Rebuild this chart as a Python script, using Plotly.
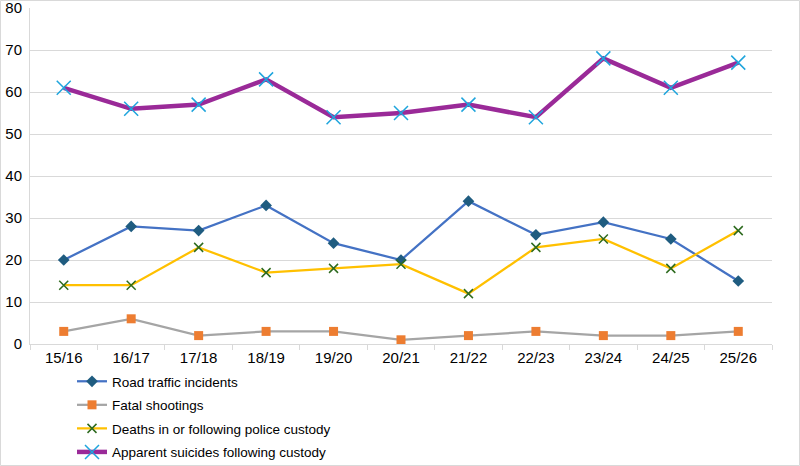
import plotly.graph_objects as go

years = ["15/16", "16/17", "17/18", "18/19", "19/20", "20/21", "21/22", "22/23", "23/24", "24/25", "25/26"]
road = [20, 28, 27, 33, 24, 20, 34, 26, 29, 25, 15]
shootings = [3, 6, 2, 3, 3, 1, 2, 3, 2, 2, 3]
custody = [14, 14, 23, 17, 18, 19, 12, 23, 25, 18, 27]
suicides = [61, 56, 57, 63, 54, 55, 57, 54, 68, 61, 67]
y_ticks = [0, 10, 20, 30, 40, 50, 60, 70, 80]

W, H = 800, 466
ml, mr, mt, mb = 30, 28, 8, 122

fig = go.Figure()
fig.add_trace(go.Scatter(x=years, y=road, name="Road traffic incidents", mode="lines+markers",
                         line=dict(color="#4472C4", width=2.25),
                         marker=dict(symbol="diamond", size=9, color="#1F5C80"), legendgroup="a"))
fig.add_trace(go.Scatter(x=years, y=shootings, name="Fatal shootings", mode="lines+markers",
                         line=dict(color="#A5A5A5", width=2.25),
                         marker=dict(symbol="square", size=9, color="#ED7D31"), legendgroup="b"))
fig.add_trace(go.Scatter(x=years, y=custody, name="Deaths in or following police custody", mode="lines+markers",
                         line=dict(color="#FFC000", width=2.25),
                         marker=dict(symbol="x-thin", size=9, line=dict(color="#2E6B1F", width=1.5)), legendgroup="c"))
fig.add_trace(go.Scatter(x=years, y=suicides, name="Apparent suicides following custody", mode="lines+markers",
                         line=dict(color="#9A2A98", width=4.5),
                         marker=dict(symbol="x-thin", size=14, line=dict(color="#1FA5DD", width=1.5)), legendgroup="d"))

pw = W - ml - mr
ph = H - mt - mb
fig.add_shape(type="rect", xref="paper", yref="paper",
              x0=(0.5 - ml) / pw, x1=(W - 0.5 - ml) / pw,
              y0=-(mb - 0.5) / ph, y1=(ph + mt - 0.5) / ph,
              line=dict(color="#D9D9D9", width=1), layer="below")

fig.update_layout(
    width=W, height=H,
    margin=dict(l=ml, r=mr, t=mt, b=mb),
    paper_bgcolor="white", plot_bgcolor="white",
    font=dict(family="Liberation Sans, Arial, sans-serif", size=15, color="#000000"),
    showlegend=True,
    legend=dict(x=(72 - ml) / pw, y=1 - 366 / H, xref="paper", yref="container",
                xanchor="left", yanchor="top", orientation="v",
                font=dict(size=13.5), tracegroupgap=3, bgcolor="rgba(0,0,0,0)", itemwidth=30),
    xaxis=dict(showgrid=False, showline=True, linecolor="#D9D9D9", linewidth=1,
               ticks="outside", ticklen=5, tickcolor="#D9D9D9", tickson="boundaries",
               tickfont=dict(size=15), tickangle=0, range=[-0.5, 10.5], fixedrange=True,
               automargin=False),
    yaxis=dict(range=[0, 80.001], tickmode="array", tickvals=y_ticks, showgrid=True,
               gridcolor="#D9D9D9", gridwidth=1,
               showline=True, linecolor="#D9D9D9", zeroline=False, tickfont=dict(size=15),
               ticks="", ticklabelstandoff=4, automargin=False, ticklabeloverflow="allow"),
)

fig.write_html("out.html")
